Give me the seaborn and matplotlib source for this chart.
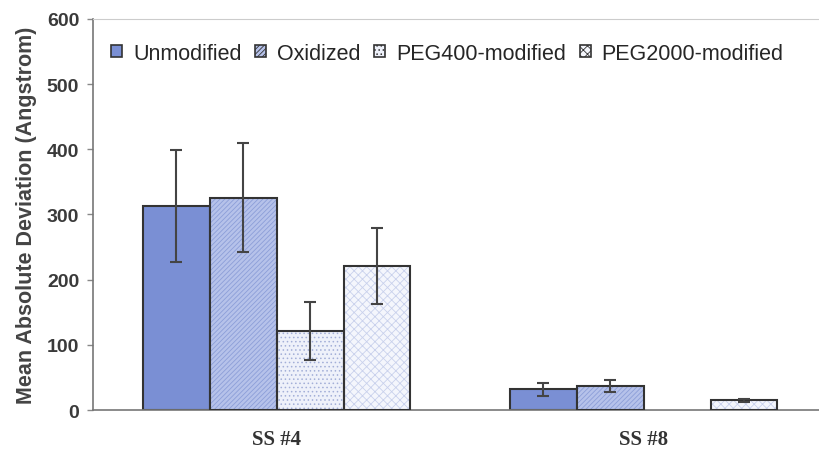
import numpy as np
import pandas as pd
import matplotlib
matplotlib.use("Agg")
import matplotlib.pyplot as plt
from matplotlib.patches import Patch, Rectangle
import seaborn as sns

# values
categories = ["SS #4", "SS #8"]
series = ["Unmodified", "Oxidized", "PEG400-modified", "PEG2000-modified"]
unmodified = [313, 32]
oxidized = [326, 37]
peg400 = [121, np.nan]
peg2000 = [221, 15]
unmodified_err = [86, 10]
oxidized_err = [84, 9]
peg400_err = [44, np.nan]
peg2000_err = [58, 2]
y_ticks = [0, 100, 200, 300, 400, 500, 600]

vals = {"Unmodified": unmodified, "Oxidized": oxidized,
        "PEG400-modified": peg400, "PEG2000-modified": peg2000}
errs = {"Unmodified": unmodified_err, "Oxidized": oxidized_err,
        "PEG400-modified": peg400_err, "PEG2000-modified": peg2000_err}

rows = []
for s in series:
    for i, c in enumerate(categories):
        rows.append({"cat": c, "series": s, "val": vals[s][i], "err": errs[s][i]})
df = pd.DataFrame(rows)

# fill, hatch pattern, hatch colour
faces = {"Unmodified": "#7a8fd4", "Oxidized": "#b6c2ea",
         "PEG400-modified": "#eef1fa", "PEG2000-modified": "#f4f6fc"}
hatches = {"Unmodified": None, "Oxidized": "///////",
           "PEG400-modified": "....", "PEG2000-modified": "xxxx"}
hcolors = {"Unmodified": "#333333", "Oxidized": "#8c9ed8",
           "PEG400-modified": "#a3afd8", "PEG2000-modified": "#c9d1ec"}
edge = "#333333"

sns.set_style("white")
plt.rcParams["hatch.linewidth"] = 0.6

fig = plt.figure(figsize=(8.19, 4.52), dpi=100)
ax = fig.add_axes([0.1136, 0.0907, 0.8962, 0.8651])

sns.barplot(data=df, x="cat", y="val", hue="series", order=categories,
            hue_order=series, palette=faces, width=0.73, errorbar=None,
            saturation=1, legend=False, ax=ax)

for s, cont in zip(series, ax.containers):
    for bar in cont:
        if np.isnan(bar.get_height()):
            continue
        if hatches[s]:
            bar.set_hatch(hatches[s])
            bar.set_edgecolor(hcolors[s])
            bar.set_linewidth(0)
            ax.add_patch(Rectangle((bar.get_x(), bar.get_y()), bar.get_width(),
                                   bar.get_height(), fill=False, ec=edge, lw=1.5, zorder=3))
        else:
            bar.set_edgecolor(edge)
            bar.set_linewidth(1.5)
        xc = bar.get_x() + bar.get_width() / 2
        i = int(round(xc))
        e = errs[s][i]
        ax.errorbar(xc, vals[s][i], yerr=e, fmt="none", ecolor="#444444",
                    elinewidth=1.5, capsize=4.5, capthick=1.5, zorder=4)

ax.set_xlim(-0.5, 1.5)
ax.set_ylim(0, 600)
ax.set_yticks(y_ticks)
ax.set_yticklabels([str(t) for t in y_ticks], fontsize=14, fontweight="bold",
                   color="#3a3a3a", family="Liberation Sans")
ax.set_xticks(range(len(categories)))
ax.set_xticklabels(categories, fontsize=15, fontweight="bold",
                   color="#333333", family="Liberation Serif")
ax.tick_params(axis="y", length=4, width=1, color="#888888", left=True, pad=6)
ax.tick_params(axis="x", length=0, pad=14)
ax.set_xlabel("")
ax.set_ylabel("Mean Absolute Deviation (Angstrom)", fontsize=15.5,
              fontweight="bold", color="#444444", family="Liberation Sans",
              labelpad=7)

for side in ["left", "bottom"]:
    ax.spines[side].set_color("#777777")
    ax.spines[side].set_linewidth(1.2)
ax.spines["top"].set_color("#cccccc")
ax.spines["top"].set_linewidth(0.8)
ax.spines["right"].set_visible(False)

handles = []
for s in series:
    if hatches[s]:
        handles.append(Patch(facecolor=faces[s], edgecolor=edge, hatch=hatches[s], lw=1.2))
    else:
        handles.append(Patch(facecolor=faces[s], edgecolor=edge, lw=1.2))
ax.legend(handles, series, loc="center left", bbox_to_anchor=(0.025, 0.912),
          ncol=4, frameon=False, handlelength=0.5,
          handleheight=0.5, handletextpad=0.5, columnspacing=0.65,
          borderpad=0, borderaxespad=0,
          prop={"family": "Liberation Sans", "size": 15.5})

fig.savefig("out.png", dpi=100)
